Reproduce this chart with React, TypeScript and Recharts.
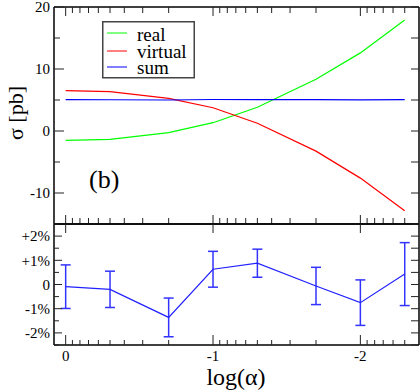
import React from 'react';
import { LineChart, Line, XAxis, YAxis, ErrorBar, Legend, Customized } from 'recharts';

// ---- data ----
const ALPHA = [1, 0.5, 0.2, 0.1, 0.05, 0.02, 0.01, 0.005];
const REAL = [-1.5, -1.34, -0.27, 1.34, 3.82, 8.34, 12.6, 17.9];
const VIRTUAL = [6.5, 6.34, 5.27, 3.75, 1.25, -3.25, -7.6, -12.85];
const SUM = [5.05, 5.04, 5.0, 5.08, 5.07, 5.05, 5.02, 5.06];
const RATIO = [-0.09, -0.2, -1.36, 0.63, 0.88, -0.06, -0.75, 0.43];
const RATIO_ERR = [0.9, 0.75, 0.8, 0.74, 0.58, 0.77, 0.94, 1.3];

const SERIES_NAMES = ['real', 'virtual', 'sum'];
const SERIES_COLORS = ['#00ff00', '#ff0000', '#0000ff'];

const X_MAJOR = [0, -1, -2];
const X_LABELS = ['0', '-1', '-2'];
const X_MINOR_ALPHA = [0.9, 0.8, 0.7, 0.6, 0.5, 0.4, 0.3, 0.2, 0.09, 0.08, 0.07, 0.06, 0.05, 0.04, 0.03, 0.02, 0.009, 0.008, 0.007, 0.006, 0.005];
const X_DOMAIN_ALPHA = [0.004, 1.2];

const YT_MAJOR = [-10, 0, 10, 20];
const YT_LABELS = ['-10', '0', '10', '20'];
const YT_MINOR = [-15, -5, 5, 15];
const YT_DOMAIN = [-15, 20];

const YB_MAJOR = [-2, -1, 0, 1, 2];
const YB_LABELS = ['-2%', '-1%', '0', '+1%', '+2%'];
const YB_MINOR = [-2.5, -1.5, -0.5, 0.5, 1.5, 2.5];
const YB_DOMAIN = [-2.5, 2.5];

// ---- derived tables ----
const logA = ALPHA.map((a) => Math.log10(a));
const topRows = logA.map((x, i) => ({ x, real: REAL[i], virtual: VIRTUAL[i], sum: SUM[i] }));
const botRows = logA.map((x, i) => ({ x, ratio: RATIO[i], err: RATIO_ERR[i] }));
const xDomain = [Math.log10(X_DOMAIN_ALPHA[0]), Math.log10(X_DOMAIN_ALPHA[1])];
const xMinor = X_MINOR_ALPHA.map((a) => Math.log10(a));
const xAll = [...X_MAJOR, ...xMinor];

const FONT = "'Liberation Serif', 'Times New Roman', serif";
const AXIS_LINE = { stroke: '#000', strokeWidth: 1.5 };
const TICK_COLOR = '#222';

type Side = 'top' | 'bottom' | 'left' | 'right';

function makeTick(side: Side, majors: number[], labels: string[] | null, majorLen: number, minorLen: number) {
  return (props: any) => {
    const { x, y, payload } = props;
    const v = payload.value;
    const idx = majors.findIndex((m) => Math.abs(m - v) < 1e-6);
    const isMajor = idx >= 0;
    const len = isMajor ? majorLen : minorLen;
    let x2 = x;
    let y2 = y;
    if (side === 'bottom') y2 = y - len;
    else if (side === 'top') y2 = y + len;
    else if (side === 'left') x2 = x + len;
    else x2 = x - len;
    let label: React.ReactNode = null;
    if (labels && isMajor) {
      if (side === 'bottom') {
        label = (
          <text x={x} y={y + 16} textAnchor="middle" fontFamily={FONT} fontSize={15} fill="#000">
            {labels[idx]}
          </text>
        );
      } else if (side === 'left') {
        label = (
          <text x={x - 4} y={y} dy="0.35em" textAnchor="end" fontFamily={FONT} fontSize={15} fill="#000">
            {labels[idx]}
          </text>
        );
      }
    }
    return (
      <g>
        {len > 0 && <line x1={x} y1={y} x2={x2} y2={y2} stroke={TICK_COLOR} strokeWidth={1} />}
        {label}
      </g>
    );
  };
}

const renderLegend = (props: any) => {
  const payload = [...(props.payload || [])].sort(
    (a: any, b: any) => SERIES_NAMES.indexOf(a.value) - SERIES_NAMES.indexOf(b.value)
  );
  const lineY = [12, 30, 46];
  const textY = [19.5, 37, 52.5];
  return (
    <svg width={93} height={58} style={{ display: 'block' }}>
      <rect x={0.75} y={0.75} width={91.5} height={56} fill="#fff" stroke="#444" strokeWidth={1.5} />
      {payload.map((p: any, i: number) => (
        <g key={i}>
          <line x1={5} x2={25} y1={lineY[i]} y2={lineY[i]} stroke={p.color} strokeWidth={1} />
          <text x={35} y={textY[i]} fontFamily={FONT} fontSize={19} fill="#000">
            {p.value}
          </text>
        </g>
      ))}
    </svg>
  );
};

const TopLabels = () => (
  <g>
    <text x={15} y={113} transform="rotate(-90 15 113)" textAnchor="middle" dominantBaseline="central" fontFamily={FONT} fontSize={22} fill="#000">
      σ [pb]
    </text>
    <text x={89} y={188} fontFamily={FONT} fontSize={26} fill="#000">
      (b)
    </text>
  </g>
);

const BottomLabels = () => (
  <text x={236} y={185} textAnchor="middle" fontFamily={FONT} fontSize={24} fill="#000">
    log(α)
  </text>
);

export default function App() {
  return (
    <div style={{ position: 'absolute', left: 0, top: 0, width: 420, height: 390, background: '#fff' }}>
      <div style={{ position: 'absolute', left: 0, top: 0 }}>
        <LineChart width={420} height={230} data={topRows} margin={{ top: 6, right: 0, bottom: 5, left: 53 }}>
          <XAxis xAxisId={0} type="number" dataKey="x" domain={xDomain} reversed allowDataOverflow
            orientation="bottom" height={1} ticks={xAll} interval={0} tickSize={0} tickMargin={0}
            tickLine={false} axisLine={AXIS_LINE} tick={makeTick('bottom', X_MAJOR, null, 9, 6)} />
          <XAxis xAxisId="top" type="number" dataKey="x" domain={xDomain} reversed allowDataOverflow
            orientation="top" height={1} ticks={xAll} interval={0} tickSize={0} tickMargin={0}
            tickLine={false} axisLine={AXIS_LINE} tick={makeTick('top', X_MAJOR, null, 9, 6)} />
          <YAxis yAxisId={0} type="number" domain={YT_DOMAIN} allowDataOverflow orientation="left" width={1}
            ticks={[...YT_MAJOR, ...YT_MINOR]} interval={0} tickSize={0} tickMargin={0}
            tickLine={false} axisLine={AXIS_LINE} tick={makeTick('left', YT_MAJOR, YT_LABELS, 10, 6)} />
          <YAxis yAxisId="right" type="number" domain={YT_DOMAIN} allowDataOverflow orientation="right" width={1}
            ticks={[...YT_MAJOR, ...YT_MINOR]} interval={0} tickSize={0} tickMargin={0}
            tickLine={false} axisLine={AXIS_LINE} tick={makeTick('right', YT_MAJOR, null, 8, 8)} />
          <Legend layout="vertical" align="center" verticalAlign="middle" content={renderLegend}
            wrapperStyle={{ position: 'absolute', left: 102, top: 21, width: 93, height: 58 }} />
          <Line type="linear" dataKey="real" name={SERIES_NAMES[0]} stroke={SERIES_COLORS[0]} strokeWidth={1.2} dot={false} isAnimationActive={false} />
          <Line type="linear" dataKey="virtual" name={SERIES_NAMES[1]} stroke={SERIES_COLORS[1]} strokeWidth={1.2} dot={false} isAnimationActive={false} />
          <Line type="linear" dataKey="sum" name={SERIES_NAMES[2]} stroke={SERIES_COLORS[2]} strokeWidth={1.2} dot={false} isAnimationActive={false} />
          <Customized component={<TopLabels />} />
        </LineChart>
      </div>
      <div style={{ position: 'absolute', left: 0, top: 200 }}>
        <LineChart width={420} height={190} data={botRows} margin={{ top: 23, right: 0, bottom: 44, left: 53 }}>
          <XAxis xAxisId={0} type="number" dataKey="x" domain={xDomain} reversed allowDataOverflow
            orientation="bottom" height={1} ticks={xAll} interval={0} tickSize={0} tickMargin={0}
            tickLine={false} axisLine={AXIS_LINE} tick={makeTick('bottom', X_MAJOR, X_LABELS, 10, 5)} />
          <XAxis xAxisId="top" type="number" dataKey="x" domain={xDomain} reversed allowDataOverflow
            orientation="top" height={1} ticks={X_MAJOR} interval={0} tickSize={0} tickMargin={0}
            tickLine={false} axisLine={AXIS_LINE} tick={makeTick('top', X_MAJOR, null, 9, 0)} />
          <YAxis yAxisId={0} type="number" domain={YB_DOMAIN} allowDataOverflow orientation="left" width={1}
            ticks={[...YB_MAJOR, ...YB_MINOR]} interval={0} tickSize={0} tickMargin={0}
            tickLine={false} axisLine={AXIS_LINE} tick={makeTick('left', YB_MAJOR, YB_LABELS, 8, 5)} />
          <YAxis yAxisId="right" type="number" domain={YB_DOMAIN} allowDataOverflow orientation="right" width={1}
            ticks={[...YB_MAJOR, ...YB_MINOR]} interval={0} tickSize={0} tickMargin={0}
            tickLine={false} axisLine={AXIS_LINE} tick={makeTick('right', YB_MAJOR, null, 8, 8)} />
          <Line type="linear" dataKey="ratio" stroke="#2222ff" strokeWidth={1.2} dot={false} isAnimationActive={false}>
            <ErrorBar dataKey="err" width={5} stroke="#3333ff" strokeWidth={1.5} direction="y" />
          </Line>
          <Customized component={<BottomLabels />} />
        </LineChart>
      </div>
    </div>
  );
}
